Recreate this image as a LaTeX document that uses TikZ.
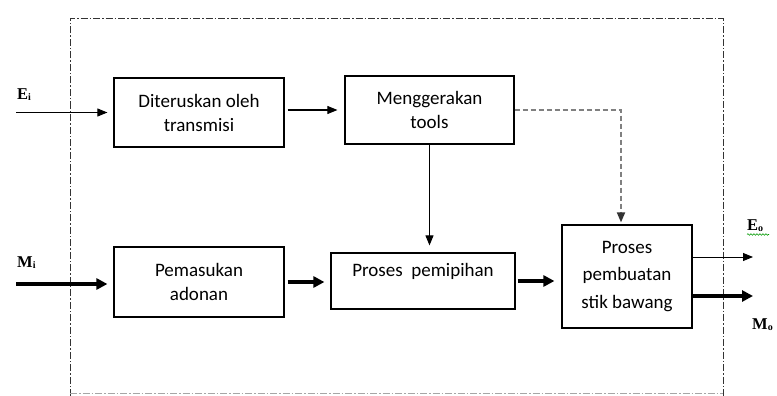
\documentclass[tikz,border=0pt]{standalone}
\usepackage{fontspec}
\setmainfont{Carlito}
\newfontfamily\serifb{Liberation Serif}
\usetikzlibrary{arrows.meta,decorations.pathmorphing}
\newcommand\lowsub[1]{\raisebox{-1.2pt}{\fontsize{10}{10}\selectfont #1}}
\tikzset{
  box/.style={draw, line width=1.2pt, inner sep=0pt, align=center, font=\fontsize{19}{24}\selectfont},
  txt/.style={inner sep=0pt, align=center, font=\fontsize{19}{24}\selectfont},
  lab/.style={inner sep=0pt, anchor=base west, font=\serifb\bfseries\fontsize{16.5}{16.5}\selectfont},
  thinarr/.style={line width=1pt, -{Triangle[length=10pt,width=8pt]}},
  thickarr/.style={line width=3.5pt, -{Triangle[length=11pt,width=11pt]}},
  dasharr/.style={line width=1.8pt, gray, dash pattern=on 5pt off 3pt, -{Triangle[length=10pt,width=8pt,color=black!80]}},
  bound/.style={line width=1pt, black!80, dash pattern=on 7pt off 2pt on 1.5pt off 2pt}
}
\begin{document}
\begin{tikzpicture}[x=1pt,y=-1pt]
\useasboundingbox (0,0) rectangle (777,396);
% system boundary
\draw[bound] (70,396) -- (70,19) -- (723,19) -- (723,396);
\draw[bound, black!35, line width=0.8pt] (70,393) -- (723,393);
% boxes
\node[box, minimum width=170pt, minimum height=69pt] (d1) at (199,112.5) {Diteruskan oleh\\transmisi};
\node[box, minimum width=169pt, minimum height=68pt] (m1) at (429.5,110) {Menggerakan\\tools};
\node[box, minimum width=170pt, minimum height=70pt] (p1) at (199,282) {Pemasukan\\adonan};
\node[box, minimum width=184pt, minimum height=56pt] (p2) at (423,281) {};
\node[txt] (p2t) at (423,271) {Proses\ \ pemipihan};
\node[box, minimum width=130pt, minimum height=103pt, font=\fontsize{19}{27.5}\selectfont] (p3) at (627,276.5) {Proses\\pembuatan\\stik bawang};
% labels
\node[lab] (Ei) at (17,99.5) {E\lowsub{i}};
\node[lab] (Mi) at (17,267.5) {M\lowsub{i}};
\node[lab] (Eo) at (747,230) {E\lowsub{o}};
\node[lab] (Mo) at (752,329) {M\lowsub{o}};
\draw[green!60!black, line width=0.6pt, decorate, decoration={snake, segment length=3pt, amplitude=0.8pt}] (747,234.5) -- (769,234.5);
% connectors
\coordinate (eiS) at (16,112.5);
\coordinate (miS) at (16,284);
\coordinate (eoE) at (753,257);
\coordinate (moE) at (753,296);
\draw[thinarr, shorten >=6pt] (eiS) -- (eiS -| d1.west);
\draw[thinarr, shorten <=3pt, shorten >=7pt] (d1.east |- m1.west) -- (m1.west);
\draw[thinarr, shorten >=7pt] (m1.south) -- (m1.south |- p2.north);
\draw[dasharr, shorten >=2pt] (m1.east) -| ([xshift=-6pt]p3.north);
\draw[thickarr, shorten >=6pt] (miS) -- (miS -| p1.west);
\draw[thickarr, shorten <=3pt, shorten >=6pt] (p1.east) -- (p1.east -| p2.west);
\draw[thickarr, shorten <=2pt, shorten >=7pt] (p2.east) -- (p2.east -| p3.west);
\draw[thinarr] (p3.east |- eoE) -- (eoE);
\draw[thickarr] (p3.east |- moE) -- (moE);
\end{tikzpicture}
\end{document}
